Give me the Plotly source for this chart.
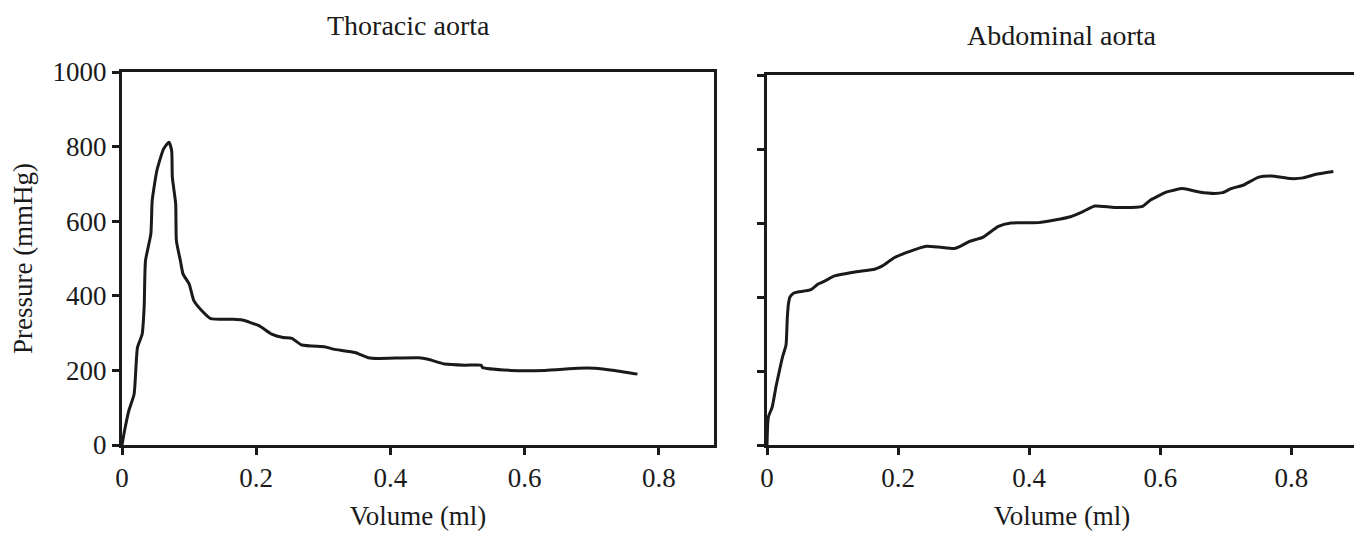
import plotly.graph_objects as go

# Thoracic aorta: volume (ml) vs pressure (mmHg)
thoracic_volume = [0.000, 0.004, 0.010, 0.018, 0.023, 0.030, 0.033, 0.035, 0.043, 0.045,
                   0.052, 0.062, 0.070, 0.074, 0.075, 0.080, 0.081, 0.087, 0.091, 0.100,
                   0.107, 0.119, 0.132, 0.164, 0.179, 0.204, 0.223, 0.240, 0.253, 0.268,
                   0.303, 0.315, 0.347, 0.367, 0.382, 0.442, 0.456, 0.481, 0.511, 0.535,
                   0.537, 0.580, 0.630, 0.680, 0.704, 0.734, 0.768]
thoracic_pressure = [0, 40, 91, 136, 261, 297, 369, 494, 566, 655,
                     736, 794, 812, 789, 718, 646, 548, 494, 458, 432,
                     387, 360, 339, 337, 335, 320, 297, 288, 286, 268,
                     263, 257, 248, 234, 232, 234, 230, 217, 214, 214,
                     208, 200, 200, 206, 206, 200, 190]

# Abdominal aorta: volume (ml) vs pressure (mmHg)
abdominal_volume = [0.000, 0.002, 0.008, 0.014, 0.018, 0.024, 0.029, 0.031, 0.033, 0.035,
                    0.041, 0.048, 0.066, 0.078, 0.090, 0.103, 0.139, 0.164, 0.176, 0.194,
                    0.219, 0.243, 0.262, 0.286, 0.298, 0.310, 0.329, 0.353, 0.372, 0.414,
                    0.439, 0.463, 0.482, 0.500, 0.530, 0.573, 0.585, 0.610, 0.634, 0.659,
                    0.683, 0.695, 0.708, 0.726, 0.750, 0.769, 0.799, 0.818, 0.836, 0.864]
abdominal_pressure = [0, 75, 103, 160, 193, 240, 270, 345, 385, 400,
                      411, 414, 419, 435, 445, 457, 469, 475, 484, 506,
                      524, 537, 535, 531, 540, 551, 561, 591, 600, 601,
                      608, 617, 631, 646, 642, 645, 662, 684, 693, 684,
                      680, 682, 693, 702, 724, 727, 720, 722, 731, 739]

x_ticks = [0, 0.2, 0.4, 0.6, 0.8]
x_tick_text = ["0", "0.2", "0.4", "0.6", "0.8"]
y_ticks = [0, 200, 400, 600, 800, 1000]
y_tick_text = ["0", "200", "400", "600", "800", "1000"]

titles = ["Thoracic aorta", "Abdominal aorta"]
x_title = "Volume (ml)"
y_title = "Pressure (mmHg)"

FONT = "Liberation Serif, Times New Roman, serif"
INK = "#1a1a1a"
FS = 27

fig = go.Figure()
fig.add_trace(go.Scatter(x=thoracic_volume, y=thoracic_pressure, mode="lines",
                         line=dict(color=INK, width=3, shape="spline", smoothing=0.5),
                         xaxis="x", yaxis="y", showlegend=False))
fig.add_trace(go.Scatter(x=abdominal_volume, y=abdominal_pressure, mode="lines",
                         line=dict(color=INK, width=3, shape="spline", smoothing=0.5),
                         xaxis="x2", yaxis="y2", showlegend=False))

W, H = 1362, 535
OFF = 8  # page body margin
def fx(p): return (p - OFF) / W
def fy(p): return 1 - (p - OFF) / H

common_x = dict(tickmode="array", tickvals=x_ticks, ticktext=x_tick_text,
                ticks="outside", ticklen=7, tickwidth=2.5, tickcolor=INK,
                showline=True, linewidth=3, linecolor=INK, mirror=True,
                showgrid=False, zeroline=False, automargin=False,
                tickfont=dict(family=FONT, size=FS, color=INK),
                title=dict(text=x_title, font=dict(family=FONT, size=FS, color=INK), standoff=14))
common_y = dict(tickmode="array", tickvals=y_ticks, ticktext=y_tick_text,
                range=[0, 1000], ticks="outside", ticklen=7, tickwidth=2.5, tickcolor=INK,
                showline=True, linewidth=3, linecolor=INK, mirror=True,
                showgrid=False, zeroline=False, automargin=False,
                tickfont=dict(family=FONT, size=FS, color=INK))

fig.update_layout(
    width=W, height=H,
    margin=dict(l=0, r=0, t=0, b=0),
    paper_bgcolor="white", plot_bgcolor="white",
    xaxis=dict(common_x, domain=[fx(122), fx(714)], range=[0, 0.882], anchor="y"),
    yaxis=dict(common_y, domain=[fy(445), fy(72)], anchor="x",
               title=dict(text=y_title, font=dict(family=FONT, size=FS, color=INK), standoff=14)),
    xaxis2=dict(common_x, domain=[fx(767), fx(1357)], range=[0, 0.9], anchor="y2"),
    yaxis2=dict(common_y, domain=[fy(445), fy(75)], anchor="x2", showticklabels=False),
    annotations=[
        dict(text=titles[0], x=fx(408), y=fy(26), xref="paper", yref="paper",
             xanchor="center", yanchor="middle",
             showarrow=False, font=dict(family=FONT, size=28, color=INK)),
        dict(text=titles[1], x=fx(1062), y=fy(35), xref="paper", yref="paper",
             xanchor="center", yanchor="middle",
             showarrow=False, font=dict(family=FONT, size=28, color=INK)),
    ],
)

fig.write_html("out.html")
